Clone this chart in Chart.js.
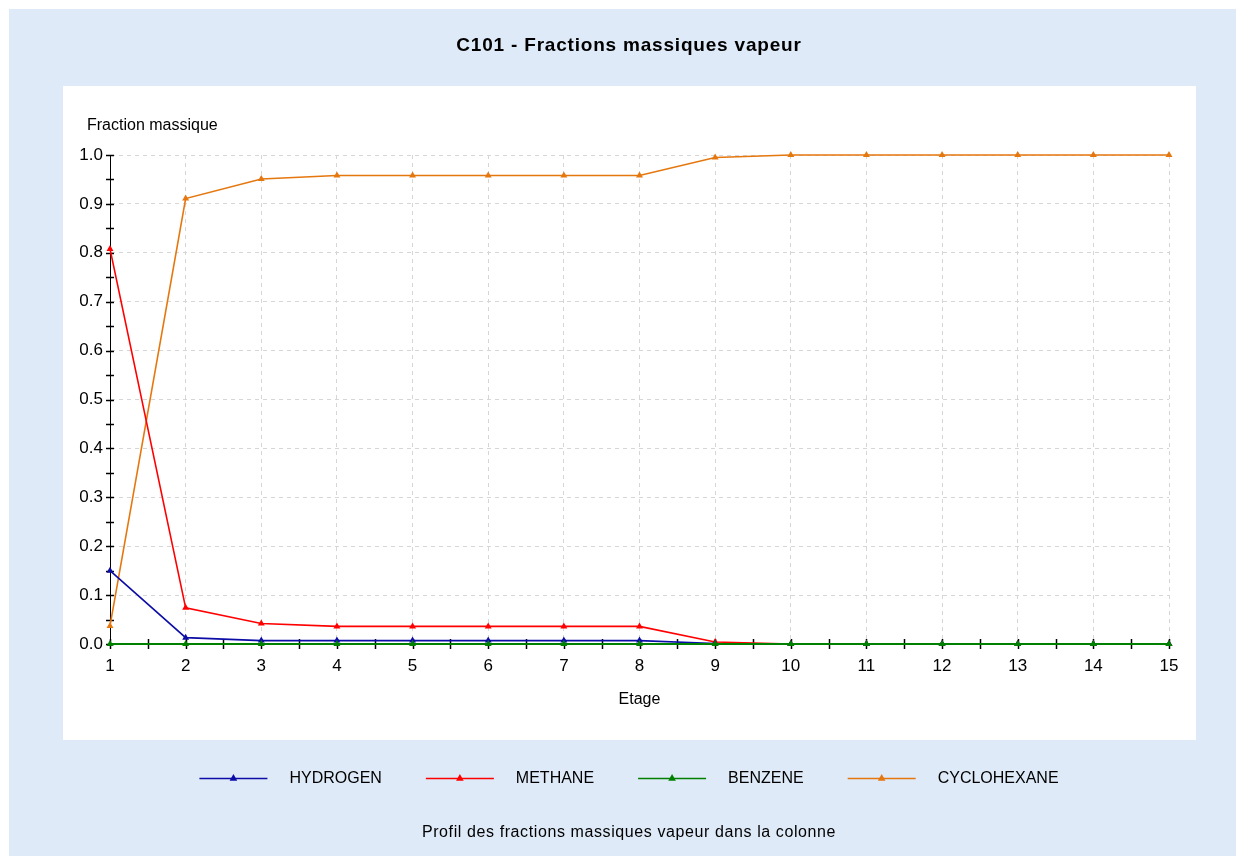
<!DOCTYPE html>
<html>
<head>
<meta charset="utf-8">
<script src="https://cdn.jsdelivr.net/npm/chart.js"></script>
<style>
  html, body { margin: 0; padding: 0; background: #fff; }
  #wrap { width: 1236px; height: 856px; position: relative; }
</style>
</head>
<body>
<div id="wrap"><canvas id="chart" width="1236" height="856"></canvas></div>
<script>
// Etages de la colonne
const stages = [1, 2, 3, 4, 5, 6, 7, 8, 9, 10, 11, 12, 13, 14, 15];

// Fractions massiques vapeur
const hydrogen    = [0.150, 0.013, 0.007, 0.007, 0.007, 0.007, 0.007, 0.007, 0.001, 0, 0, 0, 0, 0, 0];
const methane     = [0.808, 0.074, 0.042, 0.036, 0.036, 0.036, 0.036, 0.036, 0.004, 0, 0, 0, 0, 0, 0];
const benzene     = [0, 0, 0, 0, 0, 0, 0, 0, 0, 0, 0, 0, 0, 0, 0];
const cyclohexane = [0.037, 0.911, 0.951, 0.958, 0.958, 0.958, 0.958, 0.958, 0.995, 1.0, 1.0, 1.0, 1.0, 1.0, 1.0];

const seriesNames  = ['HYDROGEN', 'METHANE', 'BENZENE', 'CYCLOHEXANE'];
const seriesColors = ['#0c0ca6', '#ff0000', '#008000', '#e5770f'];

const chartTitle = 'C101 - Fractions massiques vapeur';
const chartSubtitle = 'Profil des fractions massiques vapeur dans la colonne';
const yTitle = 'Fraction massique';
const xTitle = 'Etage';

const FONT = '"Liberation Sans", Arial, sans-serif';

function toPoints(values) {
    return stages.map((s, i) => ({ x: s, y: values[i] }));
}

function isMultiple(v, step) {
    const r = v / step;
    return Math.abs(r - Math.round(r)) < 1e-6;
}

function drawTriangle(ctx, x, y, r, color) {
    ctx.beginPath();
    ctx.moveTo(x, y - r);
    ctx.lineTo(x + r * 0.95, y + r * 0.7);
    ctx.lineTo(x - r * 0.95, y + r * 0.7);
    ctx.closePath();
    ctx.fillStyle = color;
    ctx.fill();
}

const decorPlugin = {
    id: 'decor',
    beforeDraw(chart) {
        const ctx = chart.ctx;
        ctx.save();
        ctx.fillStyle = '#dfeaf8';
        ctx.fillRect(9, 9, chart.width - 9, chart.height - 9);
        ctx.fillStyle = '#ffffff';
        ctx.fillRect(63, 86, 1133, 654);
        ctx.restore();
    },
    beforeDatasetsDraw(chart) {
        // tick marks crossing the axes
        const ctx = chart.ctx;
        const xs = chart.scales.x;
        const ys = chart.scales.y;
        ctx.save();
        ctx.strokeStyle = '#000';
        ctx.lineWidth = 1.5;
        ys.ticks.forEach(t => {
            const py = Math.round(ys.getPixelForValue(t.value)) + 0.5;
            ctx.beginPath();
            ctx.moveTo(xs.left - 4, py);
            ctx.lineTo(xs.left + 4, py);
            ctx.stroke();
        });
        xs.ticks.forEach(t => {
            const px = Math.round(xs.getPixelForValue(t.value)) + 0.5;
            ctx.beginPath();
            ctx.moveTo(px, ys.bottom - 5);
            ctx.lineTo(px, ys.bottom + 5);
            ctx.stroke();
        });
        ctx.restore();
    },
    afterDraw(chart) {
        const ctx = chart.ctx;
        const area = chart.chartArea;
        ctx.save();
        ctx.fillStyle = '#000';
        ctx.textBaseline = 'middle';
        ctx.textAlign = 'center';

        ctx.font = 'bold 19px ' + FONT;
        ctx.letterSpacing = '0.8px';
        ctx.fillText(chartTitle, 629, 46);

        ctx.font = '16px ' + FONT;
        ctx.letterSpacing = '0.6px';
        ctx.fillText(chartSubtitle, 629, 833);
        ctx.letterSpacing = '0px';
        ctx.fillText(xTitle, (area.left + area.right) / 2, 700);

        ctx.textAlign = 'left';
        ctx.fillText(yTitle, 87, 126);

        // legend: line + triangle, then label
        const lineW = 68, gapText = 22, gapItem = 44, ly = 778;
        const widths = chart.data.datasets.map(d => ctx.measureText(d.label).width);
        let total = 0;
        widths.forEach((w, i) => { total += lineW + gapText + w + (i < widths.length - 1 ? gapItem : 0); });
        let x = 629 - total / 2;
        chart.data.datasets.forEach((d, i) => {
            ctx.strokeStyle = d.borderColor;
            ctx.lineWidth = 1.5;
            ctx.beginPath();
            ctx.moveTo(x, ly + 0.5);
            ctx.lineTo(x + lineW, ly + 0.5);
            ctx.stroke();
            drawTriangle(ctx, x + lineW / 2, ly, 4, d.borderColor);
            ctx.fillStyle = '#000';
            ctx.fillText(d.label, x + lineW + gapText, ly + 1);
            x += lineW + gapText + widths[i] + gapItem;
        });
        ctx.restore();
    }
};

const allSeries = [hydrogen, methane, benzene, cyclohexane];
const datasets = allSeries.map((values, i) => ({
    label: seriesNames[i],
    data: toPoints(values),
    borderColor: seriesColors[i],
    backgroundColor: seriesColors[i],
    borderWidth: seriesNames[i] === 'BENZENE' ? 2 : 1.6,
    pointStyle: 'triangle',
    pointRadius: 4,
    pointBorderWidth: 0,
    tension: 0,
    clip: false,
    order: seriesNames[i] === 'BENZENE' ? 0 : 1
}));

new Chart(document.getElementById('chart'), {
    type: 'line',
    data: { datasets: datasets },
    options: {
        responsive: false,
        animation: false,
        layout: {
            padding: { top: 155, right: 67, bottom: 172, left: 60 }
        },
        plugins: {
            legend: { display: false },
            title: { display: false },
            tooltip: { enabled: false }
        },
        scales: {
            x: {
                type: 'linear',
                min: 1,
                max: 15,
                afterFit: scale => { scale.height = 40; },
                border: { display: true, color: '#000', width: 1, dash: [4, 4] },
                grid: {
                    drawTicks: false,
                    lineWidth: 1,
                    color: c => (c.tick && isMultiple(c.tick.value, 1) && c.tick.value > 1) ? '#d6d6d6' : 'rgba(0,0,0,0)'
                },
                ticks: {
                    stepSize: 0.5,
                    autoSkip: false,
                    maxRotation: 0,
                    padding: 12,
                    color: '#000',
                    font: { family: FONT, size: 17 },
                    callback: v => isMultiple(v, 1) ? String(Math.round(v)) : ''
                }
            },
            y: {
                type: 'linear',
                min: 0,
                max: 1,
                afterFit: scale => { scale.width = 50; },
                border: { display: true, color: '#000', width: 1, dash: [4, 4] },
                grid: {
                    drawTicks: false,
                    lineWidth: 1,
                    color: c => (c.tick && isMultiple(c.tick.value, 0.1) && c.tick.value > 0.01) ? '#d6d6d6' : 'rgba(0,0,0,0)'
                },
                ticks: {
                    stepSize: 0.05,
                    autoSkip: false,
                    padding: 7,
                    color: '#000',
                    font: { family: FONT, size: 17 },
                    callback: v => isMultiple(v, 0.1) ? v.toFixed(1) : ''
                }
            }
        }
    },
    plugins: [decorPlugin]
});
</script>
</body>
</html>
